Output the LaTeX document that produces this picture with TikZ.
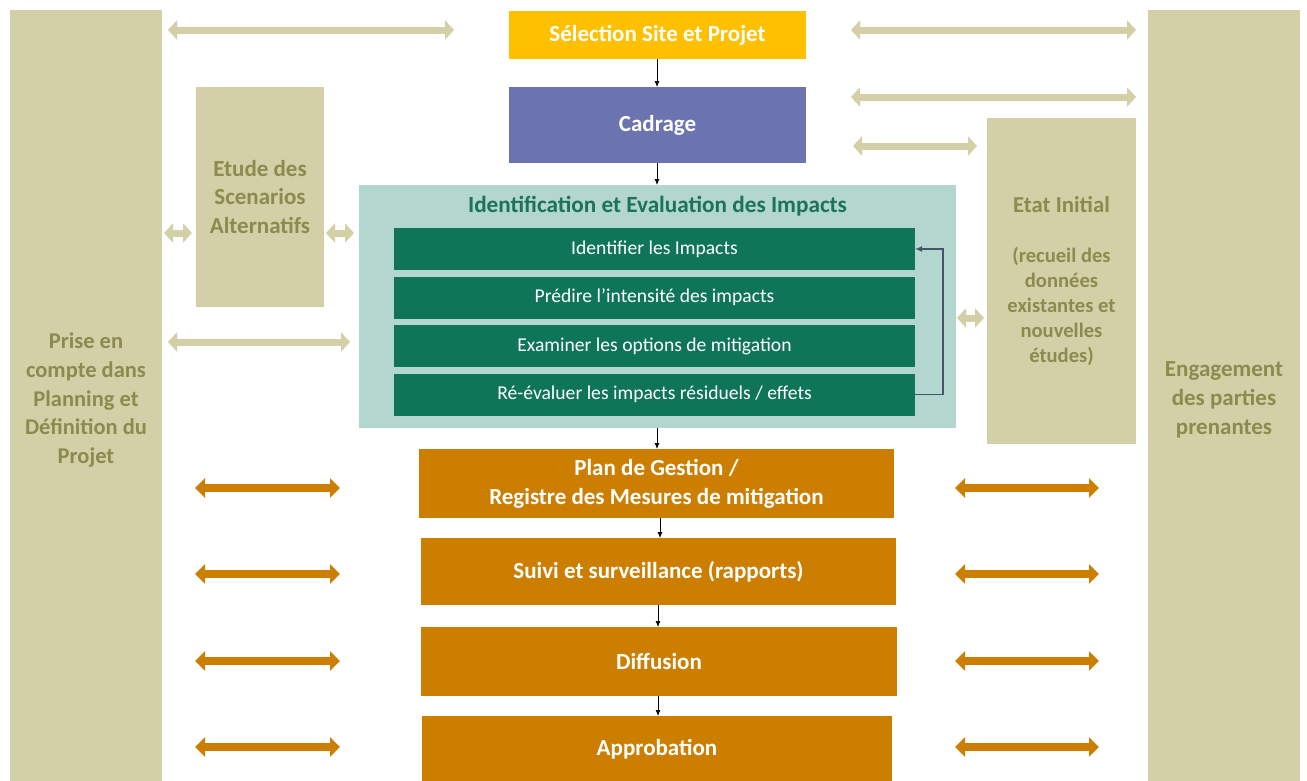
\documentclass[tikz,border=0pt]{standalone}
\usepackage{fontspec}
\setmainfont{Carlito}
\usetikzlibrary{arrows.meta}
\definecolor{beige}{HTML}{D3D0A7}
\definecolor{olivetxt}{HTML}{8C8A4E}
\definecolor{selyel}{HTML}{FFC000}
\definecolor{cadpur}{HTML}{6B74AF}
\definecolor{tealbg}{HTML}{B3D6CF}
\definecolor{dgreen}{HTML}{0F7558}
\definecolor{titgreen}{HTML}{1B7456}
\definecolor{orangebx}{HTML}{CC7E00}
\definecolor{loopcol}{HTML}{44546A}
\tikzset{
  rect/.style={inner sep=0pt, outer sep=0pt, align=center},
  sidebox/.style={rect, fill=beige, text=olivetxt, font=\bfseries\fontsize{23}{28.7}\selectfont},
  topbox/.style={rect, text=white, font=\bfseries\fontsize{23}{27}\selectfont},
  rowbox/.style={rect, fill=dgreen, text=white, minimum width=521pt, minimum height=42pt, font=\fontsize{19.6}{23}\selectfont},
  orbox/.style={rect, fill=orangebx, text=white, font=\bfseries\fontsize{23}{29}\selectfont},
  flowarr/.style={-{Latex[length=6pt,width=5pt]}, line width=0.8pt, black},
  fatbeige/.style={draw=beige, line width=7pt, {Triangle[width=19pt,length=9pt]}-{Triangle[width=19pt,length=9pt]}},
  fatorange/.style={draw=orangebx, line width=8.5pt, {Triangle[width=19pt,length=10pt]}-{Triangle[width=19pt,length=10pt]}},
  looparr/.style={draw=loopcol, line width=1.5pt, -{Latex[length=7pt,width=6pt]}},
}
\begin{document}
\begin{tikzpicture}[x=1pt,y=-1pt]
\useasboundingbox (0,0) rectangle (1307,780);
% side columns
\node[sidebox, minimum width=152pt, minimum height=780pt, font=\bfseries\fontsize{22.5}{28.7}\selectfont] (leftcol) at (86,400) {Prise en\\compte dans\\Planning et\\Définition du\\Projet};
\node[sidebox, minimum width=152pt, minimum height=780pt] (rightcol) at (1224,400) {Engagement\\des parties\\prenantes};
% top boxes
\node[topbox, fill=selyel, minimum width=297pt, minimum height=48pt] (sel) at (657.5,35) {Sélection Site et Projet};
\node[topbox, fill=cadpur, minimum width=297pt, minimum height=76pt] (cad) at (657.5,125) {Cadrage};
% side boxes
\node[sidebox, minimum width=128pt, minimum height=220pt] (etude) at (260,197) {Etude des\\Scenarios\\Alternatifs};
\node[sidebox, minimum width=149pt, minimum height=326pt, font=\bfseries\fontsize{20.6}{25}\selectfont] (etat) at (1061.5,281) {{\fontsize{22.8}{25}\selectfont Etat Initial}\\\mbox{}\\(recueil des\\données\\existantes et\\nouvelles\\études)};
% identification box
\node[rect, fill=tealbg, minimum width=597pt, minimum height=243pt] (ident) at (657.5,306.5) {};
\node[rect, text=titgreen, font=\bfseries\fontsize{23.2}{27}\selectfont] (identtitle) at (657.5,206) {Identification et Evaluation des Impacts};
\node[rowbox] (r1) at (654.5,249) {Identifier les Impacts};
\node[rowbox] (r2) at (654.5,297.5) {Prédire l’intensité des impacts};
\node[rowbox] (r3) at (654.5,346) {Examiner les options de mitigation};
\node[rowbox] (r4) at (654.5,394.5) {Ré-évaluer les impacts résiduels / effets};
% orange boxes
\node[orbox, minimum width=475pt, minimum height=69pt] (plan) at (656.5,483.5) {Plan de Gestion /\\Registre des Mesures de mitigation};
\node[orbox, minimum width=475pt, minimum height=67pt] (suivi) at (658.5,571.5) {Suivi et surveillance (rapports)};
\node[orbox, minimum width=476pt, minimum height=69pt] (diff) at (659,661.5) {Diffusion};
\node[orbox, minimum width=470pt, minimum height=66pt] (appro) at (657,749) {Approbation};
% flow arrows
\draw[flowarr] (sel.south -| 657,0) -- (cad.north -| 657,0);
\draw[flowarr] (cad.south -| 657,0) -- (ident.north -| 657,0);
\draw[flowarr] (ident.south -| 657,0) -- (plan.north -| 657,0);
\draw[flowarr] (plan.south -| 660,0) -- (suivi.north -| 660,0);
\draw[flowarr] (suivi.south -| 658,0) -- (diff.north -| 658,0);
\draw[flowarr] (diff.south -| 658,0) -- (appro.north -| 658,0);
% loop
\draw[looparr] (r4.east) -- ++(28,0) |- (r1.east);
% beige double arrows
\coordinate (b1l) at (168,30); \coordinate (b1r) at (454,30);
\coordinate (b2l) at (851,30); \coordinate (b2r) at (1136,30);
\coordinate (b3l) at (851,97); \coordinate (b3r) at (1136,97);
\coordinate (b4l) at (853,146); \coordinate (b4r) at (977,146);
\coordinate (b5l) at (164,233); \coordinate (b5r) at (192,233);
\coordinate (b6l) at (326,233); \coordinate (b6r) at (354,233);
\coordinate (b7l) at (168,342); \coordinate (b7r) at (350,342);
\coordinate (b8l) at (957,318); \coordinate (b8r) at (984,318);
\foreach \i in {1,...,8} {\draw[fatbeige] (b\i l) -- (b\i r);}
% orange double arrows
\foreach \n/\y in {1/488,2/574,3/661,4/747} {
  \coordinate (ol\n a) at (195,\y); \coordinate (ol\n b) at (340,\y);
  \coordinate (or\n a) at (955,\y); \coordinate (or\n b) at (1099,\y);
  \draw[fatorange] (ol\n a) -- (ol\n b);
  \draw[fatorange] (or\n a) -- (or\n b);
}
\end{tikzpicture}
\end{document}
